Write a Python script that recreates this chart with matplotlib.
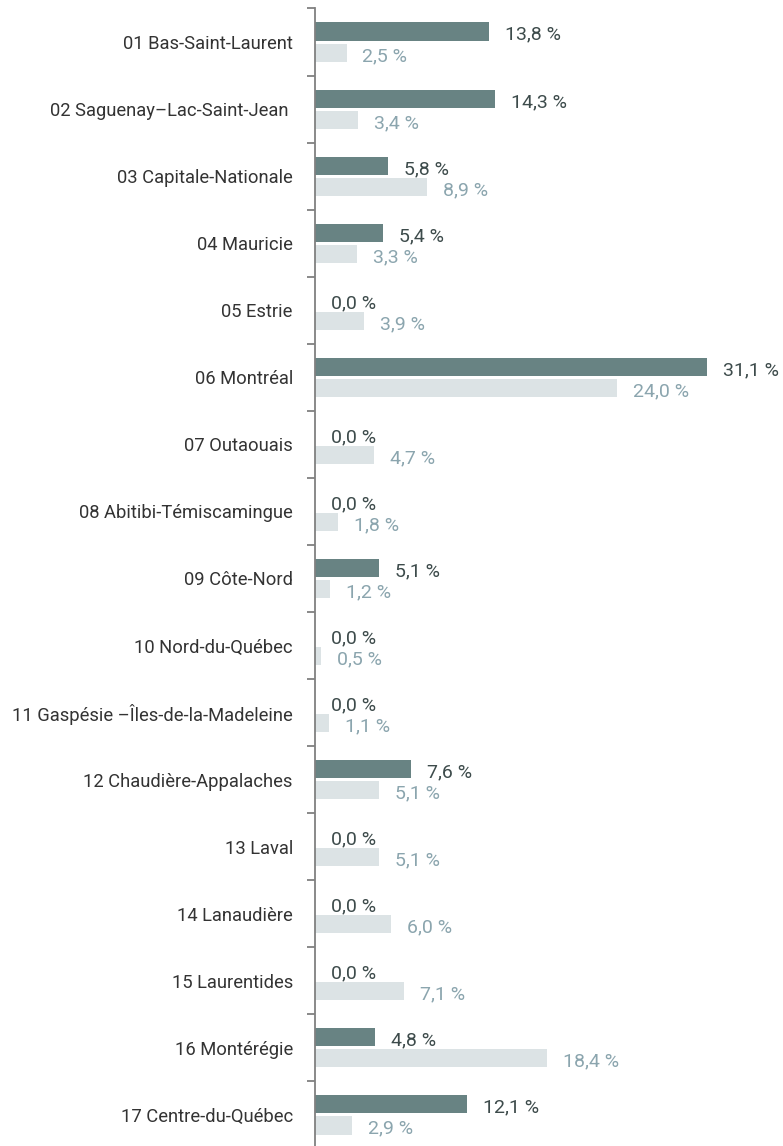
import matplotlib.pyplot as plt
import numpy as np
from matplotlib.ticker import FixedLocator

plt.rcParams['font.family'] = ['Roboto', 'DejaVu Sans']

# Données par région
regions = ['01 Bas-Saint-Laurent', '02 Saguenay–Lac-Saint-Jean ', '03 Capitale-Nationale',
           '04 Mauricie', '05 Estrie', '06 Montréal', '07 Outaouais',
           '08 Abitibi-Témiscamingue', '09 Côte-Nord', '10 Nord-du-Québec',
           '11 Gaspésie –Îles-de-la-Madeleine', '12 Chaudière-Appalaches', '13 Laval',
           '14 Lanaudière', '15 Laurentides', '16 Montérégie', '17 Centre-du-Québec']
serie_fonce = [13.8, 14.3, 5.8, 5.4, 0.0, 31.1, 0.0, 0.0, 5.1, 0.0, 0.0, 7.6, 0.0, 0.0, 0.0, 4.8, 12.1]
serie_clair = [2.5, 3.4, 8.9, 3.3, 3.9, 24.0, 4.7, 1.8, 1.2, 0.5, 1.1, 5.1, 5.1, 6.0, 7.1, 18.4, 2.9]

c_fonce = '#688383'
c_clair = '#dce3e5'
t_fonce = '#3d4b4b'
t_clair = '#8ba5ae'

W, H = 783, 1146
fig = plt.figure(figsize=(W / 100, H / 100), dpi=100)
pas = 67.06  # px par catégorie
ax = fig.add_axes([315 / W, 0, 1 - 315 / W, (H - 8.5) / H])

y = np.arange(len(regions))
h = 0.27
off = 0.157
ax.barh(y - off, serie_fonce, h, color=c_fonce)
ax.barh(y + off, serie_clair, h, color=c_clair)

px = 12.6  # px par %
ax.set_xlim(0, (W - 315) / px)
ax.set_ylim(len(regions) - 0.5 - 2.5 / pas, -0.5)

def fmt(v):
    return f'{v:.1f}'.replace('.', ',') + ' %'

dx = 16 / px
for i, (a, b) in enumerate(zip(serie_fonce, serie_clair)):
    ax.text(a + dx, i - off + 0.02, fmt(a), va='center_baseline', ha='left', fontsize=14, color=t_fonce)
    ax.text(b + dx, i + off + 0.02, fmt(b), va='center_baseline', ha='left', fontsize=14, color=t_clair)

for s in ['top', 'right', 'bottom']:
    ax.spines[s].set_visible(False)
ax.spines['left'].set_color('#808080')
ax.spines['left'].set_linewidth(1.3)
ax.set_xticks([])
ax.set_yticks(y)
ax.set_yticklabels(regions, fontsize=13.2, color='#333333')
ax.tick_params(axis='y', which='major', length=0, pad=16)
ax.yaxis.set_minor_locator(FixedLocator(np.arange(-0.5, len(regions), 1)))
ax.tick_params(axis='y', which='minor', length=6, width=1.3, color='#808080')

fig.savefig('out.png', dpi=100)
